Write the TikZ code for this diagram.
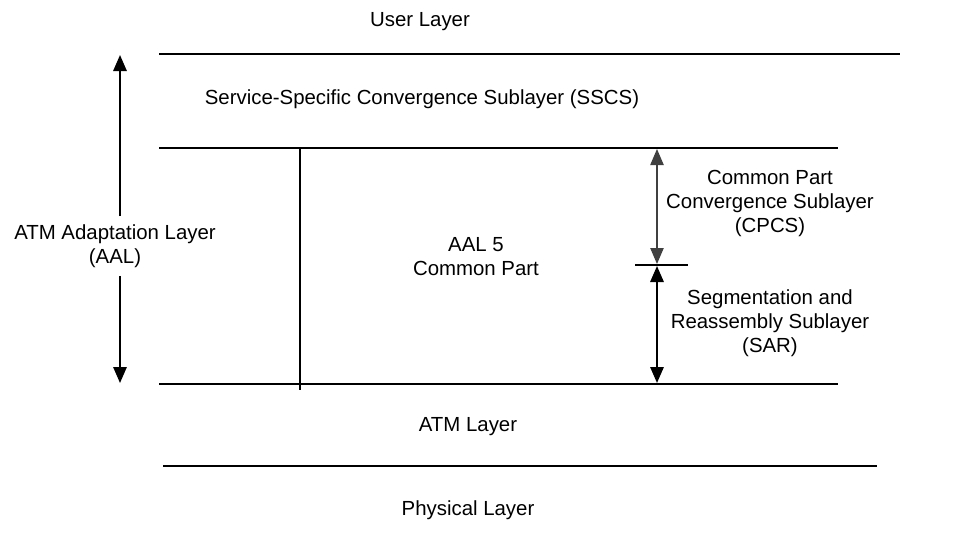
\documentclass[tikz,border=0pt]{standalone}
\usepackage{fontspec}
\setmainfont{Liberation Sans}
\usetikzlibrary{arrows.meta}
\tikzset{>={Triangle[width=10pt,length=12pt]}}
\tikzset{every text node part/.style={align=center}}
\tikzset{layerline/.style={line width=1.8pt}, lbl/.style={font=\fontsize{15.3}{18}\selectfont, inner sep=0pt}}

\begin{document}
\begin{tikzpicture}[x=0.75pt, y=-0.75pt, line cap=butt]
	\useasboundingbox (0,0) rectangle (975,553);

	% Layer Boundaries
	\coordinate (topL) at (159,54);
	\coordinate (topR) at (900,54);
	\coordinate (cpL) at (159,148);
	\coordinate (cpR) at (838,148);
	\coordinate (atmL) at (159,384);
	\coordinate (atmR) at (838,384);
	\coordinate (phyL) at (163,466);
	\coordinate (phyR) at (877,466);
	\draw[layerline] (topL) -- (topR);
	\draw[layerline] (cpL) -- (cpR);
	\draw[layerline] (atmL) -- (atmR);
	\draw[layerline] (phyL) -- (phyR);

	% Common Part Divider
	\coordinate (divT) at (300,148);
	\coordinate (divB) at (300,390);
	\draw[line width=1.2pt] (divT) -- (divB);

	% CPCS / SAR Split
	\coordinate (splitL) at (635,265);
	\coordinate (splitR) at (688,265);
	\draw[line width=1.2pt] (splitL) -- (splitR);

	% Labels
	\node[lbl] (user) at (420,22) {User Layer};
	\node[lbl] (sscs) at (422,99) {Service-Specific Convergence Sublayer (SSCS)};
	\node[lbl, inner ysep=6pt] (aal) at (115,246) {ATM Adaptation Layer\\(AAL)};
	\node[lbl] (aal5) at (476,257) {AAL 5\\Common Part};
	\node[lbl] (cpcs) at (770,203) {Common Part\\Convergence Sublayer\\(CPCS)};
	\node[lbl] (sar) at (770,323) {Segmentation and\\Reassembly Sublayer\\(SAR)};
	\node[lbl] (atm) at (468,427) {ATM Layer};
	\node[lbl] (phy) at (468,510) {Physical Layer};

	% AAL Extent
	\coordinate (aalT) at (120,55);
	\coordinate (aalB) at (120,383);
	\draw[->, line width=1.5pt] (aal.north -| aalT) -- (aalT);
	\draw[->, line width=1.5pt] (aal.south -| aalB) -- (aalB);

	% Sublayer Extents
	\coordinate (cpcsT) at (657,149);
	\coordinate (cpcsB) at (657,264);
	\coordinate (sarT) at (657,266);
	\coordinate (sarB) at (657,383);
	\draw[<->, line width=0.9pt, black!75] (cpcsT) -- (cpcsB);
	\draw[<->, line width=1.5pt] (sarT) -- (sarB);
\end{tikzpicture}
\end{document}
